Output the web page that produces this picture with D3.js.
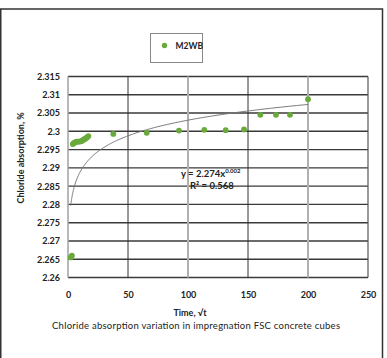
<!DOCTYPE html>
<html><head><meta charset="utf-8">
<script src="https://cdn.jsdelivr.net/npm/d3@7"></script>
<style>body{margin:0;background:#fff}svg{display:block}</style>
</head><body>
<svg id="c" width="387" height="358"></svg>
<script>
const seriesName = "M2WB";
const timeValues = [2.25, 3.25, 4, 5, 6, 7, 8, 9, 10, 11, 12, 13, 14, 15, 16, 17, 37.75, 65.6, 92.5, 113.6, 131.4, 146.7, 160.3, 173.3, 185, 200];
const absorption = [2.2655, 2.266, 2.2965, 2.2968, 2.297, 2.2972, 2.2972, 2.2972, 2.2972, 2.2973, 2.2975, 2.2977, 2.2979, 2.2981, 2.2984, 2.2987, 2.2993, 2.2996, 2.3002, 2.3004, 2.3003, 2.3005, 2.3045, 2.3045, 2.3045, 2.3088];
const xTicks = [0, 50, 100, 150, 200, 250];
const yTicks = [2.26, 2.265, 2.27, 2.275, 2.28, 2.285, 2.29, 2.295, 2.3, 2.305, 2.31, 2.315];
const trendA = 2.2747, trendB = 0.00269; // power trendline as drawn
const eqLabel = "y = 2.274x", eqExp = "0.002", r2Label = "R² = 0.568";
const xTitle = "Time, √t", yTitle = "Chloride absorption, %";
const chartTitle = "Chloride absorption variation in impregnation FSC concrete cubes";

const svg = d3.select("#c");
const L = 68, R = 368, T = 76.5, B = 277.5;
const x = d3.scaleLinear().domain([0, 250]).range([L, R]);
const y = d3.scaleLinear().domain([2.26, 2.315]).range([B, T]);
const font = "Lato, 'Liberation Sans', Arial, sans-serif";

// outer frame
svg.append("path").attr("d", `M0.75,370 V9 H382.5 V370`).attr("fill","none").attr("stroke","#333").attr("stroke-width",1.5);

// horizontal grid
svg.append("g").selectAll("line").data(yTicks).join("line")
  .attr("x1", L).attr("x2", R).attr("y1", d => y(d)).attr("y2", d => y(d))
  .attr("stroke", "#3a3a3a").attr("stroke-width", 1.4);
// vertical grid
svg.append("g").selectAll("line").data(xTicks.filter(d => d > 0)).join("line")
  .attr("x1", d => x(d)).attr("x2", d => x(d)).attr("y1", T).attr("y2", B)
  .attr("stroke", (d,i) => d === 250 ? "#555" : (i % 2 === 0 ? "#333" : "#b0b0b0"))
  .attr("stroke-width", (d,i) => d === 250 ? 1.2 : (i % 2 === 0 ? 1 : 2));
// left axis line
svg.append("line").attr("x1", L).attr("x2", L).attr("y1", T).attr("y2", B).attr("stroke", "#a0a0a0").attr("stroke-width", 1.5);

// y tick labels
const yAxis = d3.axisLeft(y).tickValues(yTicks).tickSize(0).tickPadding(8).tickFormat(d => String(+d.toFixed(3)));
const gy = svg.append("g").attr("transform", `translate(${L},0)`).call(yAxis);
gy.select(".domain").remove();
gy.selectAll("text").attr("font-family", font).attr("font-size", 9).attr("font-weight", "bold").attr("fill", "#222");

// x tick labels
const xAxis = d3.axisBottom(x).tickValues(xTicks).tickSize(0).tickPadding(14).tickFormat(d3.format("d"));
const gx = svg.append("g").attr("transform", `translate(0,${B})`).call(xAxis);
gx.select(".domain").remove();
gx.selectAll("text").attr("font-family", font).attr("font-size", 9).attr("font-weight", "bold").attr("fill", "#222");

// trendline
const tx = d3.range(0, 201).map(i => timeValues[0] + (200 - timeValues[0]) * Math.pow(i / 200, 2));
svg.append("path").datum(tx)
  .attr("d", d3.line().x(d => x(d)).y(d => y(trendA * Math.pow(d, trendB))))
  .attr("fill", "none").attr("stroke", "#777").attr("stroke-width", 1);

// points
svg.append("g").selectAll("circle").data(timeValues).join("circle")
  .attr("cx", d => x(d)).attr("cy", (d,i) => y(absorption[i])).attr("r", 2.9).attr("fill", "#6aaa3c");

// equation
const eq = svg.append("text").attr("x", 181).attr("y", 177).attr("font-family", font).attr("font-size", 9.5).attr("font-weight","bold").attr("fill","#222");
eq.append("tspan").text(eqLabel);
eq.append("tspan").attr("dy", -4).attr("font-size", 6).text(eqExp);
svg.append("text").attr("x", 190).attr("y", 189).attr("font-family", font).attr("font-size", 9.5).attr("font-weight","bold").attr("fill","#222").text(r2Label);

// legend
svg.append("rect").attr("x", 150.5).attr("y", 33.5).attr("width", 52).attr("height", 29).attr("fill", "#fff").attr("stroke", "#888");
svg.append("circle").attr("cx", 164.5).attr("cy", 45.5).attr("r", 2.7).attr("fill", "#6aaa3c");
svg.append("text").attr("x", 175.5).attr("y", 48.5).attr("font-family", font).attr("font-size", 8.5).attr("font-weight","bold").attr("fill","#222").text(seriesName);

// axis titles
svg.append("text").attr("x", 190).attr("y", 316).attr("text-anchor","middle").attr("font-family", font).attr("font-size", 9).attr("font-weight","bold").attr("fill","#222").text(xTitle);
svg.append("text").attr("transform", "translate(24,158) rotate(-90)").attr("text-anchor","middle").attr("font-family", font).attr("font-size", 9).attr("font-weight","bold").attr("fill","#222").text(yTitle);
svg.append("text").attr("x", 196).attr("y", 329).attr("text-anchor","middle").attr("font-family", font).attr("font-size", 9.5).attr("fill","#222").attr("textLength", 288).text(chartTitle);
</script>
</body></html>
